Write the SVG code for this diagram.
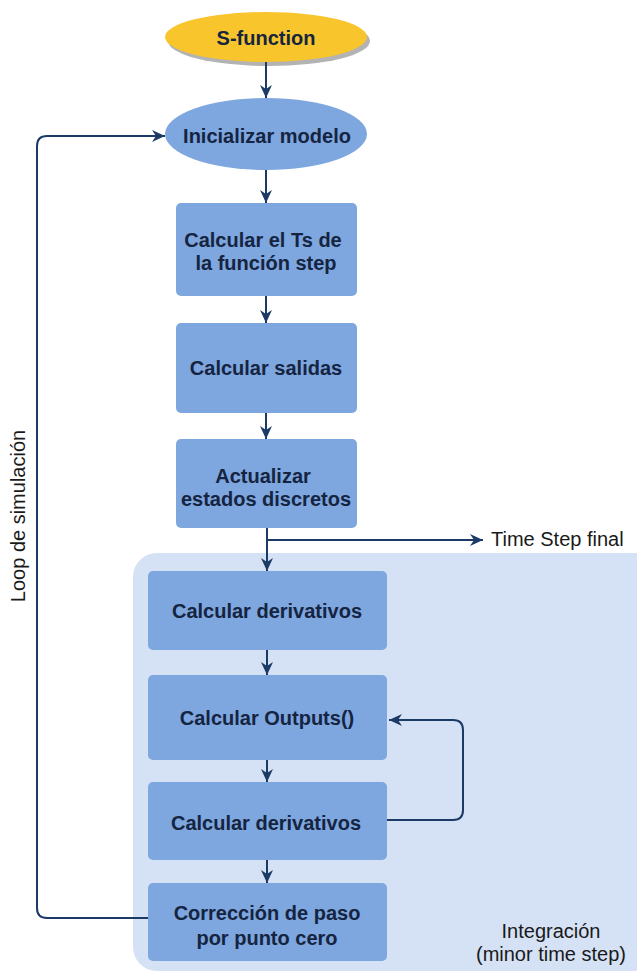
<svg xmlns="http://www.w3.org/2000/svg" width="637" height="972" viewBox="0 0 637 972">
  <defs>
    <marker id="arrow" markerUnits="userSpaceOnUse" markerWidth="14" markerHeight="12" refX="13" refY="6" orient="auto">
      <path d="M0,0 L13,6 L0,12 L4,6 Z" fill="#1b3a66"/>
    </marker>
    <style>
      .box { fill: #7ea6df; }
      .lbl { font-family: "Liberation Sans", Arial, sans-serif; font-size: 20px; font-weight: bold; fill: #15243f; text-anchor: middle; }
      .note { font-family: "Liberation Sans", Arial, sans-serif; font-size: 20px; fill: #1a1a1a; }
      .conn { fill: none; stroke: #1b3a66; stroke-width: 2; }
    </style>
  </defs>
  <rect width="637" height="972" fill="#ffffff"/>

  <!-- integration region -->
  <g id="integracion">
    <rect x="133" y="553" width="526" height="418" rx="24" fill="#d5e1f4"/>
    <text class="note" x="551" y="938" text-anchor="middle" font-size="19">Integración</text>
    <text class="note" x="551" y="961" text-anchor="middle" font-size="19.5">(minor time step)</text>
  </g>

  <!-- side label -->
  <g id="loop-label">
    <text class="note" transform="translate(25,516) rotate(-90)" text-anchor="middle">Loop de simulación</text>
  </g>

  <!-- nodes -->
  <g id="sfunction">
    <ellipse cx="269" cy="41" rx="101" ry="25" fill="#b3b3b3"/>
    <ellipse cx="266" cy="37" rx="101" ry="25" fill="#f8c52c"/>
    <text class="lbl" x="266" y="45">S-function</text>
  </g>
  <g id="inicializar">
    <ellipse cx="266" cy="134" rx="101" ry="36" class="box"/>
    <text class="lbl" x="267" y="143">Inicializar modelo</text>
  </g>
  <g id="calc-ts">
    <rect x="176" y="203" width="181" height="93" rx="5" class="box"/>
    <text class="lbl" x="263" y="247">Calcular el Ts de</text>
    <text class="lbl" x="266" y="270">la función step</text>
  </g>
  <g id="calc-salidas">
    <rect x="176" y="323" width="181" height="90" rx="5" class="box"/>
    <text class="lbl" x="266" y="375">Calcular salidas</text>
  </g>
  <g id="actualizar">
    <rect x="176" y="439" width="181" height="89" rx="5" class="box"/>
    <text class="lbl" x="263" y="483">Actualizar</text>
    <text class="lbl" x="266" y="506">estados discretos</text>
  </g>
  <g id="derivativos-1">
    <rect x="148" y="571" width="239" height="79" rx="5" class="box"/>
    <text class="lbl" x="267" y="618">Calcular derivativos</text>
  </g>
  <g id="outputs">
    <rect x="148" y="675" width="239" height="85" rx="5" class="box"/>
    <text class="lbl" x="267" y="725">Calcular Outputs()</text>
  </g>
  <g id="derivativos-2">
    <rect x="148" y="782" width="239" height="78" rx="5" class="box"/>
    <text class="lbl" x="266" y="830">Calcular derivativos</text>
  </g>
  <g id="correccion">
    <rect x="148" y="883" width="239" height="78" rx="5" class="box"/>
    <text class="lbl" x="267" y="920">Corrección de paso</text>
    <text class="lbl" x="267" y="945">por punto cero</text>
  </g>

  <!-- connectors -->
  <g id="connectors">
    <path class="conn" d="M266,62 V98" marker-end="url(#arrow)"/>
    <path class="conn" d="M266,170 V203" marker-end="url(#arrow)"/>
    <path class="conn" d="M266,296 V323" marker-end="url(#arrow)"/>
    <path class="conn" d="M266,413 V439" marker-end="url(#arrow)"/>
    <path class="conn" d="M267,528 V571" marker-end="url(#arrow)"/>
    <path class="conn" d="M267,540 H483" marker-end="url(#arrow)"/>
    <path class="conn" d="M267,650 V675" marker-end="url(#arrow)"/>
    <path class="conn" d="M267,760 V782" marker-end="url(#arrow)"/>
    <path class="conn" d="M267,860 V883" marker-end="url(#arrow)"/>
    <path class="conn" d="M387,820 H453 Q463,820 463,810 V730 Q463,720 453,720 H389" marker-end="url(#arrow)"/>
    <path class="conn" d="M148,918 H47 Q37,918 37,908 V146 Q37,136 47,136 H165" marker-end="url(#arrow)"/>
    <text class="note" x="491" y="546" font-size="19.5">Time Step final</text>
  </g>
</svg>
